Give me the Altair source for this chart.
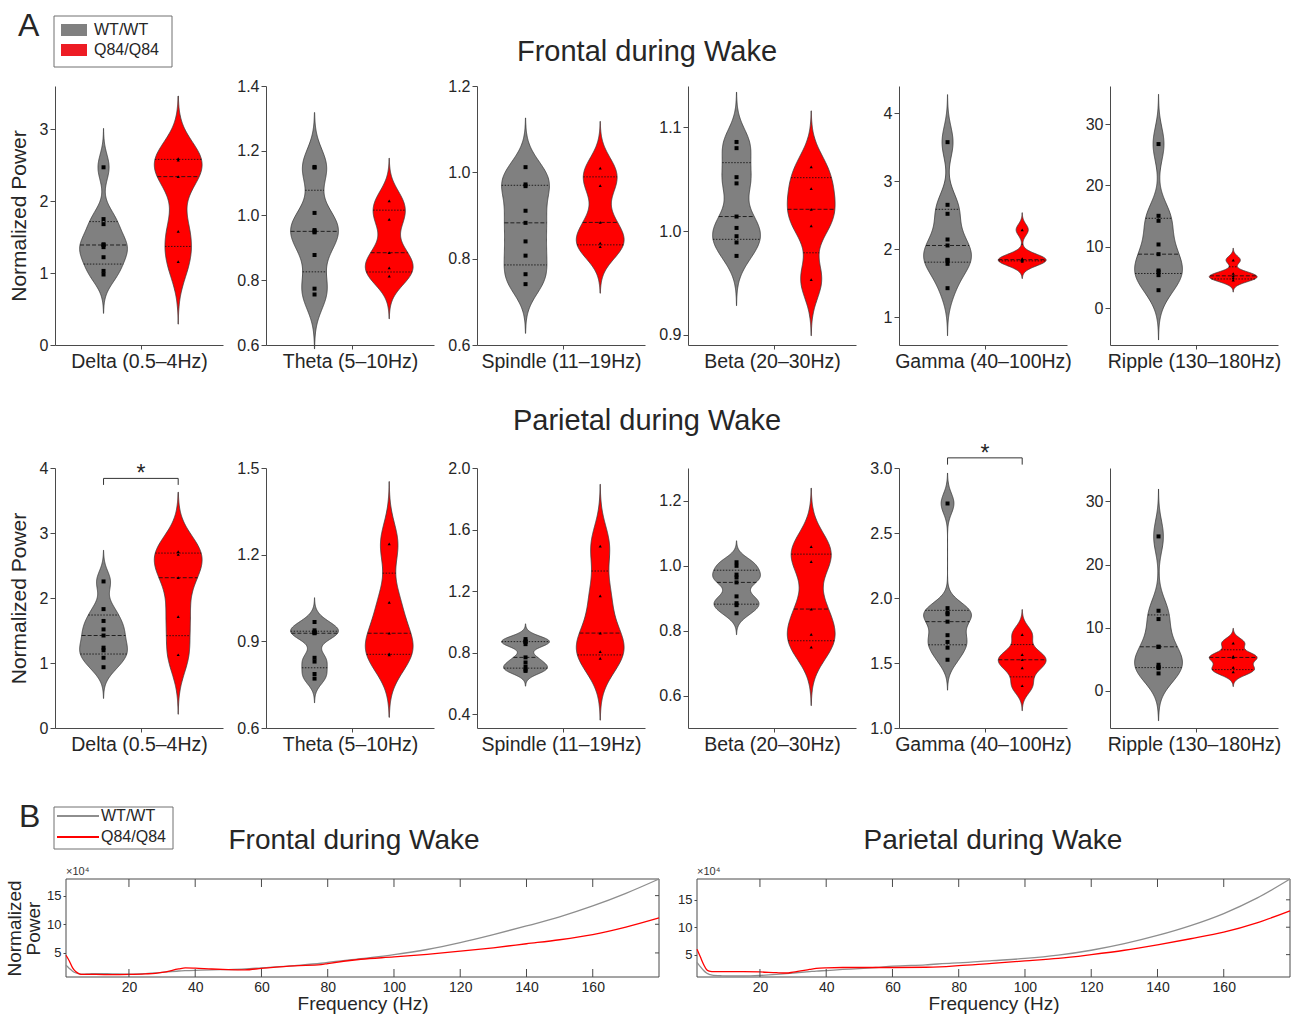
import altair as alt
import numpy as np
import pandas as pd

FONT = "Liberation Sans"
TXT = "#262626"
AXC = "#4a4a4a"
GRAY = "#808080"
RED = "#ff0000"
LEG_RED = "#ed1c24"
LINE_GRAY = "#8e8e8e"

GENOTYPES = ["WT/WT", "Q84/Q84"]
BANDS = ["Delta (0.5–4Hz)", "Theta (5–10Hz)", "Spindle (11–19Hz)",
         "Beta (20–30Hz)", "Gamma (40–100Hz)", "Ripple (130–180Hz)"]
REGIONS = ["Frontal during Wake", "Parietal during Wake"]

# ---- A: per-animal normalized band power (WT n=9, Q84 n=5) ----
FRONTAL_WT = [
    [0.98, 1.03, 1.22, 1.36, 1.39, 1.40, 1.68, 1.75, 2.47],
    [0.756, 0.774, 0.878, 0.948, 0.951, 0.955, 1.008, 1.148, 1.150],
    [0.741, 0.764, 0.807, 0.840, 0.883, 0.911, 0.968, 0.972, 1.012],
    [0.976, 0.989, 0.995, 1.003, 1.014, 1.046, 1.052, 1.080, 1.086],
    [1.426, 1.784, 1.833, 1.843, 2.054, 2.142, 2.520, 2.652, 3.574],
    [2.93, 5.38, 5.92, 6.14, 8.80, 10.38, 14.24, 15.05, 26.74],
]
FRONTAL_Q84 = [
    [1.16, 1.58, 2.34, 2.57, 2.59],
    [0.813, 0.838, 0.885, 0.988, 1.045],
    [0.828, 0.836, 0.884, 0.969, 1.010],
    [0.953, 1.005, 1.021, 1.041, 1.062],
    [1.820, 1.835, 1.845, 1.860, 2.284],
    [4.57, 4.95, 5.27, 5.65, 7.83],
]
PARIETAL_WT = [
    [0.935, 1.081, 1.195, 1.236, 1.423, 1.517, 1.647, 1.829, 2.255],
    [0.771, 0.787, 0.830, 0.843, 0.928, 0.930, 0.932, 0.938, 0.967],
    [0.681, 0.690, 0.708, 0.736, 0.769, 0.855, 0.870, 0.873, 0.888],
    [0.853, 0.878, 0.884, 0.905, 0.948, 0.963, 0.972, 0.999, 1.010],
    [1.525, 1.618, 1.662, 1.714, 1.818, 1.875, 1.888, 1.922, 2.727],
    [2.75, 3.59, 3.75, 4.12, 6.97, 6.97, 11.36, 12.68, 24.46],
]
PARIETAL_Q84 = [
    [1.127, 1.714, 2.312, 2.670, 2.712],
    [0.853, 0.857, 0.928, 1.035, 1.237],
    [0.763, 0.807, 0.927, 1.169, 1.492],
    [0.749, 0.788, 0.866, 1.012, 1.058],
    [1.325, 1.462, 1.525, 1.564, 1.719],
    [3.01, 3.70, 5.28, 5.44, 7.55],
]
# kernel bandwidths of the violins (read from tail lengths)
FRONTAL_WT_BW = [0.18, 0.056, 0.038, 0.016, 0.233, 2.7]
FRONTAL_Q84_BW = [0.29, 0.044, 0.036, 0.018, 0.084, 0.65]
PARIETAL_WT_BW = [0.16, 0.028, 0.033, 0.022, 0.078, 2.5]
PARIETAL_Q84_BW = [0.305, 0.072, 0.134, 0.06, 0.064, 0.78]

Y_DOMAINS = [
    [[0, 3.6], [0.6, 1.4], [0.6, 1.2], [0.89, 1.14], [0.59, 4.4], [-6, 36.2]],
    [[0, 4], [0.6, 1.5], [0.31, 2.0], [0.5, 1.3], [1.0, 3.0], [-5.9, 35.3]],
]
Y_TICKS = [
    [[0, 1, 2, 3], [0.6, 0.8, 1.0, 1.2, 1.4], [0.6, 0.8, 1.0, 1.2], [0.9, 1.0, 1.1], [1, 2, 3, 4], [0, 10, 20, 30]],
    [[0, 1, 2, 3, 4], [0.6, 0.9, 1.2, 1.5], [0.4, 0.8, 1.2, 1.6, 2.0], [0.6, 0.8, 1.0, 1.2], [1.0, 1.5, 2.0, 2.5, 3.0], [0, 10, 20, 30]],
]
Y_FORMATS = [["d", ".1f", ".1f", ".1f", "d", "d"], [".0f", ".1f", ".1f", ".1f", ".1f", "d"]]

# significance brackets: (region, band, bracket level, tick end)
SIGNIFICANCE = [(1, 0, 3.84, 3.74), (1, 4, 3.078, 3.026)]

# ---- B: power spectra (x10^4) ----
FREQ = [1, 2, 3, 4, 5, 6, 8, 10, 15, 20, 25, 28, 30, 35, 37, 40, 45, 50, 55, 60,
        70, 78, 80, 90, 100, 110, 120, 130, 140, 150, 160, 170, 180]
FRONTAL_SPEC_WT = [2.85, 2.3, 1.8, 1.5, 1.35, 1.3, 1.35, 1.4, 1.35, 1.3, 1.4, 1.5, 1.6, 1.85, 1.9, 1.95,
                   2.05, 2.1, 2.2, 2.4, 2.8, 3.2, 3.35, 4.0, 4.7, 5.6, 6.8, 8.2, 9.7, 11.3, 13.2, 15.4, 17.9]
FRONTAL_SPEC_Q84 = [4.6, 3.6, 2.4, 1.7, 1.35, 1.25, 1.25, 1.25, 1.2, 1.25, 1.35, 1.45, 1.6, 2.2, 2.4, 2.35,
                    2.2, 2.1, 2.05, 2.3, 2.75, 2.95, 3.15, 3.9, 4.3, 4.75, 5.3, 5.9, 6.6, 7.3, 8.2, 9.5, 11.1]
PARIETAL_SPEC_WT = [3.6, 2.8, 2.1, 1.6, 1.35, 1.2, 1.15, 1.1, 1.1, 1.2, 1.4, 1.55, 1.65, 1.9, 2.0, 2.1,
                    2.3, 2.45, 2.65, 2.9, 3.15, 3.45, 3.5, 3.9, 4.3, 4.9, 5.8, 7.0, 8.5, 10.3, 12.5, 15.3, 18.8]
PARIETAL_SPEC_Q84 = [6.0, 4.6, 3.2, 2.2, 1.95, 1.9, 1.9, 1.9, 1.9, 1.85, 1.7, 1.65, 1.8, 2.3, 2.5, 2.6,
                     2.65, 2.65, 2.65, 2.65, 2.7, 2.9, 3.0, 3.4, 3.85, 4.3, 5.0, 5.8, 6.8, 7.9, 9.1, 10.8, 13.0]
SPEC_Y_DOMAINS = [[0.8, 17.9], [0.92, 18.8]]
SPEC_X_DOMAIN = [1, 180]
FREQ_TICKS = [20, 40, 60, 80, 100, 120, 140, 160]
SPEC_Y_TICKS = [5, 10, 15]

WT_VALUES = [FRONTAL_WT, PARIETAL_WT]
Q84_VALUES = [FRONTAL_Q84, PARIETAL_Q84]
WT_BW = [FRONTAL_WT_BW, PARIETAL_WT_BW]
Q84_BW = [FRONTAL_Q84_BW, PARIETAL_Q84_BW]
SPECTRA = [(FRONTAL_SPEC_WT, FRONTAL_SPEC_Q84), (PARIETAL_SPEC_WT, PARIETAL_SPEC_Q84)]

# ---- layout ----
PANEL_W = 168
PANEL_H = [259, 260]
X_DOMAIN = [0.35, 2.6]
HALF_W = 0.32
SPEC_W = 593
SPEC_H = 98
SPEC_INSET = [11, 0]   # left inset of the framed plot inside each B panel


def text_layer(label, x, y, size, align="left", baseline="alphabetic", color=TXT):
    return alt.Chart(pd.DataFrame({"t": [label]})).mark_text(
        align=align, baseline=baseline, fontSize=size, font=FONT, color=color
    ).encode(x=alt.value(x), y=alt.value(y), text="t:N")


def violin_panel(r, b):
    groups = [WT_VALUES[r][b], Q84_VALUES[r][b]]
    bws = [WT_BW[r][b], Q84_BW[r][b]]
    rows = []
    for gi, vals in enumerate(groups):
        q1, med, q3 = np.quantile(vals, [0.25, 0.5, 0.75], method="weibull")
        for v in vals:
            rows.append(dict(group=GENOTYPES[gi], gx=gi + 1, value=v,
                             q1=float(q1), med=float(med), q3=float(q3)))
    df = pd.DataFrame(rows)

    xs = alt.Scale(domain=X_DOMAIN, nice=False, zero=False)
    ys = alt.Scale(domain=Y_DOMAINS[r][b], nice=False, zero=False)
    xaxis = alt.Axis(values=[1.5], labels=False, tickSize=4, title=BANDS[b],
                     titleFontSize=19.5, titlePadding=3, titleFontWeight="normal")
    yargs = dict(values=Y_TICKS[r][b], format=Y_FORMATS[r][b], tickSize=5,
                 labelPadding=2, labelFontSize=16)
    if b == 0:
        yaxis = alt.Axis(title="Normalized Power", titleFontSize=21, titlePadding=10,
                         titleFontWeight="normal", **yargs)
    else:
        yaxis = alt.Axis(title=None, **yargs)

    def X(f):
        return alt.X(f, type="quantitative", scale=xs, axis=xaxis)

    def Y(f):
        return alt.Y(f, type="quantitative", scale=ys, axis=yaxis)

    base = alt.Chart(df)
    layers = []
    fills = [GRAY, RED]
    for gi, g in enumerate(GENOTYPES):
        vals, bw = groups[gi], bws[gi]
        lo, hi = min(vals) - 3 * bw, max(vals) + 3 * bw
        dens = (
            base.transform_filter(alt.datum.group == g)
            .transform_density("value", groupby=["gx", "q1", "med", "q3"], bandwidth=bw,
                               extent=[lo, hi], steps=240, as_=["v", "dens"])
            .transform_joinaggregate(maxd="max(dens)")
            .transform_calculate(
                x1=f"datum.gx - datum.dens / datum.maxd * {HALF_W}",
                x2=f"datum.gx + datum.dens / datum.maxd * {HALF_W}",
            )
        )
        layers.append(
            dens.mark_area(orient="horizontal", fill=fills[gi], stroke="#3a3a3a",
                           strokeWidth=0.8, opacity=1)
            .encode(y=Y("v"), x=X("x1"), x2=alt.X2("x2"))
        )
        qlines = (
            dens.transform_fold(["q1", "med", "q3"], as_=["kind", "qv"])
            .transform_calculate(dist="abs(datum.v - datum.qv)")
            .transform_window(rk="row_number()", groupby=["kind"],
                              sort=[alt.SortField("dist", order="ascending")])
            .transform_filter("datum.rk == 1")
            .mark_rule(color="#111111", strokeWidth=1, opacity=0.85)
            .encode(
                y=Y("qv"), x=X("x1"), x2=alt.X2("x2"),
                strokeDash=alt.StrokeDash(
                    "kind:N",
                    scale=alt.Scale(domain=["q1", "med", "q3"],
                                    range=[[1.5, 1.5], [4, 2], [1.5, 1.5]]),
                    legend=None),
            )
        )
        layers.append(qlines)

    layers.append(
        base.transform_filter(alt.datum.group == GENOTYPES[0])
        .mark_square(size=16, color="black", opacity=1)
        .encode(x=X("gx"), y=Y("value"))
    )
    layers.append(
        base.transform_filter(alt.datum.group == GENOTYPES[1])
        .mark_point(shape="triangle-up", filled=True, size=10, color="black", opacity=1)
        .encode(x=X("gx"), y=Y("value"))
    )

    for (sr, sb, level, tick_end) in SIGNIFICANCE:
        if sr == r and sb == b:
            sdf = pd.DataFrame([{"a": 1, "b": 2, "m": 1.5, "y": level, "y2": tick_end, "s": "*"}])
            sc = alt.Chart(sdf)
            layers.append(sc.mark_rule(color="#333333", strokeWidth=1).encode(x=X("a"), x2=alt.X2("b"), y=Y("y")))
            layers.append(sc.mark_rule(color="#333333", strokeWidth=1).encode(x=X("a"), y=Y("y"), y2=alt.Y2("y2")))
            layers.append(sc.mark_rule(color="#333333", strokeWidth=1).encode(x=X("b"), y=Y("y"), y2=alt.Y2("y2")))
            layers.append(sc.mark_text(fontSize=23, font=FONT, color=TXT, baseline="alphabetic", dy=3)
                          .encode(x=X("m"), y=Y("y"), text="s:N"))

    if b == 0:
        layers.append(text_layer(REGIONS[r], 592, -25 if r == 0 else -38, 29, align="center"))
    if r == 0 and b == 0:
        layers.append(text_layer("A", -37, -50, 32))
        box = alt.Chart(pd.DataFrame({"k": ["legend"]})).mark_rect(
            fill="white", stroke="#707070", strokeWidth=1
        ).encode(x=alt.value(-1), x2=alt.value(117), y=alt.value(-70), y2=alt.value(-19))
        layers.append(box)
        sw_cols = [GRAY, LEG_RED]
        for i, g in enumerate(GENOTYPES):
            layers.append(
                alt.Chart(pd.DataFrame({"g": [g]})).mark_rect(fill=sw_cols[i])
                .encode(x=alt.value(6), x2=alt.value(32),
                        y=alt.value(-62 + 20 * i), y2=alt.value(-50 + 20 * i))
            )
            layers.append(text_layer(g, 39, -56 + 20 * i, 16, baseline="middle"))

    return alt.layer(*layers).properties(width=PANEL_W, height=PANEL_H[r])


def spectrum_panel(r):
    wt, q84 = SPECTRA[r]
    inset = SPEC_INSET[r]
    width = SPEC_W + inset
    df = pd.DataFrame({
        "freq": FREQ * 2,
        "power": wt + q84,
        "group": [GENOTYPES[0]] * len(FREQ) + [GENOTYPES[1]] * len(FREQ),
    })
    xs = alt.Scale(domain=SPEC_X_DOMAIN, range=[inset, width], nice=False, zero=False)
    ys = alt.Scale(domain=SPEC_Y_DOMAINS[r], nice=False, zero=False)
    xaxis = alt.Axis(values=FREQ_TICKS, domain=False, ticks=False, labelPadding=3,
                     labelFontSize=14, title="Frequency (Hz)", titleFontSize=19,
                     titlePadding=0, titleFontWeight="normal")
    yargs = dict(values=SPEC_Y_TICKS, domain=False, tickSize=3, labelPadding=2,
                 labelFontSize=13, offset=-inset)
    if r == 0:
        yaxis = alt.Axis(title=["Normalized", "Power"], titleFontSize=19, titleLineHeight=19,
                         titlePadding=3, titleFontWeight="normal", **yargs)
    else:
        yaxis = alt.Axis(title=None, **yargs)

    def X(f):
        return alt.X(f, type="quantitative", scale=xs, axis=xaxis)

    def Y(f):
        return alt.Y(f, type="quantitative", scale=ys, axis=yaxis)

    frame = alt.Chart(pd.DataFrame({"k": ["frame"]})).mark_rect(
        fill="white", stroke=AXC, strokeWidth=1
    ).encode(x=alt.value(inset), x2=alt.value(width), y=alt.value(0), y2=alt.value(SPEC_H))
    lines = alt.Chart(df).mark_line(strokeWidth=1.3, interpolate="monotone").encode(
        x=X("freq"), y=Y("power"),
        color=alt.Color("group:N", scale=alt.Scale(domain=GENOTYPES, range=[LINE_GRAY, RED]),
                        legend=None),
        order=alt.Order("freq:Q"),
    )
    tdf = pd.DataFrame({"f": FREQ_TICKS})
    top_ticks = alt.Chart(tdf).mark_rule(color=AXC, strokeWidth=1).encode(
        x=X("f"), y=alt.value(0), y2=alt.value(8))
    bot_ticks = alt.Chart(tdf).mark_rule(color=AXC, strokeWidth=1).encode(
        x=X("f"), y=alt.value(SPEC_H - 8), y2=alt.value(SPEC_H))
    ydf = pd.DataFrame({"p": SPEC_Y_TICKS})
    right_ticks = alt.Chart(ydf).mark_rule(color=AXC, strokeWidth=1).encode(
        y=Y("p"), x=alt.value(width - 4), x2=alt.value(width))
    layers = [frame, lines, top_ticks, bot_ticks, right_ticks,
              text_layer("×10⁴", inset, -4, 11, color="#333333"),
              text_layer(REGIONS[r], inset + (288 if r == 0 else 296), -30, 28, align="center")]
    if r == 0:
        layers.append(text_layer("B", inset - 47, -52, 32))
        layers.append(
            alt.Chart(pd.DataFrame({"k": ["legend"]})).mark_rect(
                fill="white", stroke="#707070", strokeWidth=1
            ).encode(x=alt.value(inset - 12), x2=alt.value(inset + 107),
                     y=alt.value(-72), y2=alt.value(-30))
        )
        cols = [LINE_GRAY, RED]
        for i, g in enumerate(GENOTYPES):
            layers.append(
                alt.Chart(pd.DataFrame({"g": [g]})).mark_rule(color=cols[i], strokeWidth=2)
                .encode(x=alt.value(inset - 9), x2=alt.value(inset + 33), y=alt.value(-63 + 21 * i))
            )
            layers.append(text_layer(g, inset + 35, -63 + 21 * i, 16, baseline="middle"))
    return alt.layer(*layers).properties(width=width, height=SPEC_H)


row1 = alt.hconcat(*[violin_panel(0, b) for b in range(6)], spacing=43, bounds="flush")
row2 = alt.hconcat(*[violin_panel(1, b) for b in range(6)], spacing=43, bounds="flush")
row3 = alt.hconcat(spectrum_panel(0), spectrum_panel(1), spacing=38, bounds="flush")

chart = (
    alt.vconcat(alt.vconcat(row1, row2, spacing=36), row3, spacing=47)
    .properties(padding={"left": 5, "top": 10, "right": 5, "bottom": 2}, background="white")
    .configure_view(stroke=None)
    .configure_axis(labelFont=FONT, titleFont=FONT, labelColor=TXT, titleColor=TXT,
                    domainColor=AXC, tickColor=AXC, grid=False)
)

chart.save("out.html", embed_options={"renderer": "svg", "actions": False})
